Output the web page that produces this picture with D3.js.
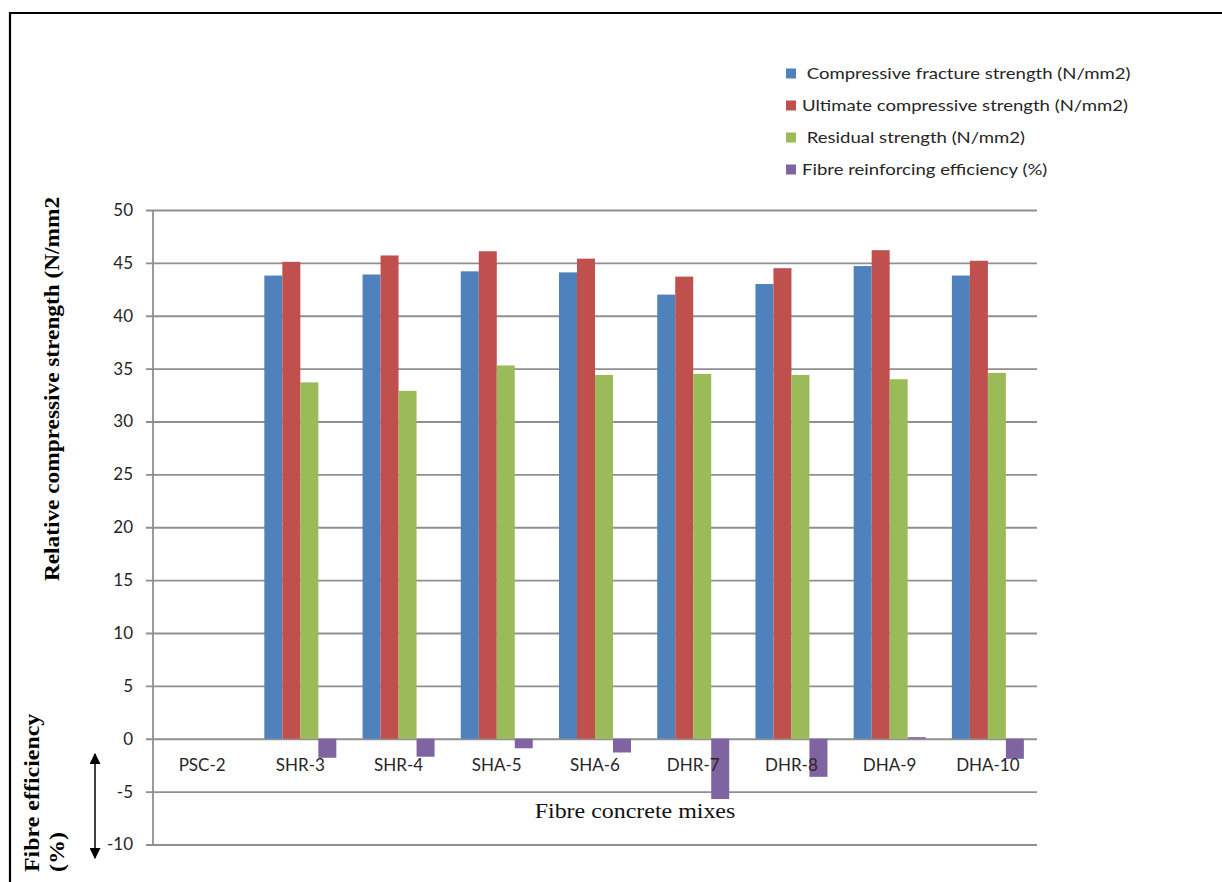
<!DOCTYPE html>
<html>
<head>
<meta charset="utf-8">
<script src="https://cdn.jsdelivr.net/npm/d3@7/dist/d3.min.js"></script>
<style>
  html, body { margin: 0; padding: 0; background: #fff; }
  svg { display: block; }
</style>
</head>
<body>
<svg id="chart" width="1222" height="882"></svg>
<script>
const categories = ["PSC-2", "SHR-3", "SHR-4", "SHA-5", "SHA-6", "DHR-7", "DHR-8", "DHA-9", "DHA-10"];
const fractureStrength = [0, 43.8, 43.9, 44.2, 44.1, 42.0, 43.0, 44.7, 43.8];
const ultimateStrength = [0, 45.1, 45.7, 46.1, 45.4, 43.7, 44.5, 46.2, 45.2];
const residualStrength = [0, 33.7, 32.9, 35.3, 34.4, 34.5, 34.4, 34.0, 34.6];
const fibreEfficiency = [0, -1.8, -1.7, -0.9, -1.3, -5.7, -3.6, 0.15, -1.9];
const seriesNames = [
  " Compressive fracture strength (N/mm2)",
  "Ultimate compressive strength (N/mm2)",
  " Residual strength (N/mm2)",
  "Fibre reinforcing efficiency (%)"
];
const seriesColors = ["#4F81BD", "#C0504D", "#9BBB59", "#8064A2"];
const yTicks = [-10, -5, 0, 5, 10, 15, 20, 25, 30, 35, 40, 45, 50];

const seriesValues = [fractureStrength, ultimateStrength, residualStrength, fibreEfficiency];

const svg = d3.select("#chart");

// frame
svg.append("line").attr("x1", 10).attr("x2", 10).attr("y1", 12).attr("y2", 882)
  .attr("stroke", "#000").attr("stroke-width", 2.2);
svg.append("line").attr("x1", 9).attr("x2", 1222).attr("y1", 13).attr("y2", 13)
  .attr("stroke", "#000").attr("stroke-width", 2.2);

const plotLeft = 153, plotRight = 1037, plotTop = 210, plotBottom = 844.5;

const x0 = d3.scaleBand().domain(categories).range([plotLeft, plotRight])
  .paddingInner(0.267).paddingOuter(0.1335);
const x1 = d3.scaleBand().domain(d3.range(seriesNames.length)).range([0, x0.bandwidth()]);
const y = d3.scaleLinear().domain([-10, 50]).range([plotBottom, plotTop]);

// gridlines + tick labels
const yAxis = d3.axisLeft(y).tickValues(yTicks).tickSize(-(plotRight - 146)).tickPadding(13)
  .tickFormat(d => String(d));
const gy = svg.append("g").attr("transform", "translate(146,0)").call(yAxis);
gy.select(".domain").remove();
gy.selectAll(".tick line").attr("stroke", "#8f8f8f").attr("stroke-width", 1.8);
gy.selectAll(".tick text").attr("fill", "#262626")
  .style("font-family", "Lato, 'Open Sans', sans-serif").style("font-size", "17px");

// vertical axis line
svg.append("line").attr("x1", plotLeft).attr("x2", plotLeft).attr("y1", y(50)).attr("y2", y(-10))
  .attr("stroke", "#8f8f8f").attr("stroke-width", 1.8);

// bars
const groups = svg.append("g").selectAll("g").data(categories).join("g")
  .attr("transform", d => `translate(${x0(d)},0)`);
groups.selectAll("rect")
  .data((c, ci) => seriesValues.map((vals, si) => ({ si, v: vals[ci] })))
  .join("rect")
  .attr("x", d => x1(d.si))
  .attr("width", x1.bandwidth())
  .attr("y", d => y(Math.max(0, d.v)))
  .attr("height", d => Math.abs(y(d.v) - y(0)))
  .attr("fill", d => seriesColors[d.si]);

// category labels
svg.append("g").selectAll("text").data(categories).join("text")
  .attr("x", d => x0(d) + x0.bandwidth() / 2)
  .attr("y", 771)
  .attr("text-anchor", "middle")
  .attr("fill", "#262626")
  .style("font-family", "Lato, 'Open Sans', sans-serif").style("font-size", "17px")
  .text(d => d);

const serif = "'Liberation Serif', 'Times New Roman', serif";

// x axis title
svg.append("text").attr("transform", "translate(635,818) scale(1.14,1)").attr("text-anchor", "middle")
  .style("font-family", serif).style("font-size", "21px")
  .attr("fill", "#111").text("Fibre concrete mixes");

// y axis title
svg.append("text").attr("transform", "translate(59,389) rotate(-90) scale(1.11,1)").attr("text-anchor", "middle")
  .style("font-family", serif).style("font-size", "21px")
  .style("font-weight", "bold").attr("fill", "#000")
  .text("Relative compressive strength (N/mm2");

// fibre efficiency title
svg.append("text").attr("transform", "translate(39,872) rotate(-90) scale(1.14,1)").attr("text-anchor", "start")
  .style("font-family", serif).style("font-size", "21px")
  .style("font-weight", "bold").attr("fill", "#000")
  .text("Fibre efficiency");
svg.append("text").attr("transform", "translate(64,872) rotate(-90) scale(1.14,1)").attr("text-anchor", "start")
  .style("font-family", serif).style("font-size", "21px")
  .style("font-weight", "bold").attr("fill", "#000")
  .text("(%)");

// double arrow
const defs = svg.append("defs");
defs.append("marker").attr("id", "ah").attr("viewBox", "0 0 10 10").attr("refX", 9).attr("refY", 5)
  .attr("markerWidth", 11).attr("markerHeight", 11).attr("markerUnits", "userSpaceOnUse")
  .attr("orient", "auto-start-reverse")
  .append("path").attr("d", "M0,0 L10,5 L0,10 Z").attr("fill", "#000");
svg.append("line").attr("x1", 95).attr("x2", 95).attr("y1", 754).attr("y2", 858)
  .attr("stroke", "#000").attr("stroke-width", 1.5)
  .attr("marker-start", "url(#ah)").attr("marker-end", "url(#ah)");

// legend
const legend = svg.append("g").selectAll("g").data(seriesNames).join("g")
  .attr("transform", (d, i) => `translate(786,${73.5 + i * 32})`);
legend.append("rect").attr("x", 0).attr("y", -5).attr("width", 10).attr("height", 10)
  .attr("fill", (d, i) => seriesColors[i]);
legend.append("text").attr("transform", "translate(16,0) scale(1.16,1)").attr("dy", "0.35em")
  .style("white-space", "pre").attr("xml:space", "preserve")
  .style("font-family", "Lato, 'Open Sans', sans-serif").style("font-size", "16px")
  .attr("fill", "#262626").text(d => d);
</script>
</body>
</html>
